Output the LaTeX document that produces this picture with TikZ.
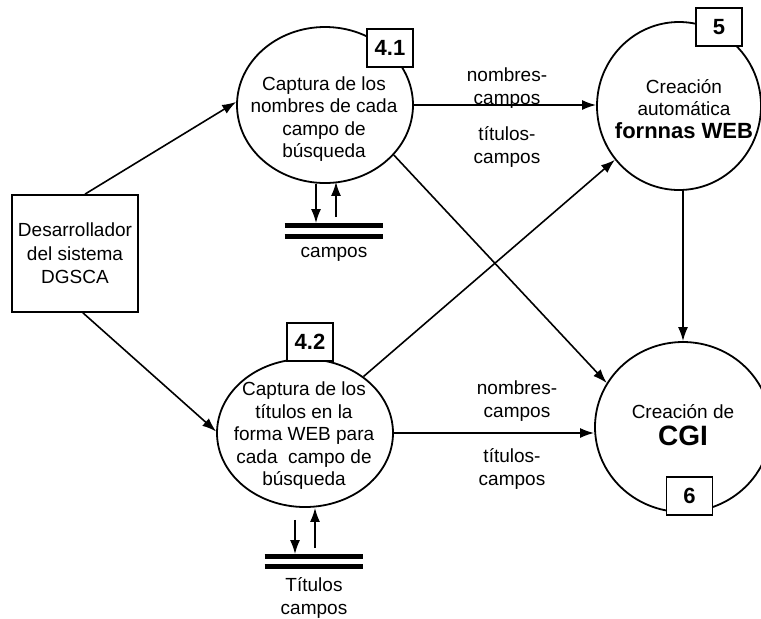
\documentclass[tikz,border=0pt]{standalone}
\usepackage{fontspec}
\setmainfont{Liberation Sans}
\usetikzlibrary{shapes.geometric,arrows.meta,calc,positioning}

\begin{document}
\begin{tikzpicture}[x=0.5pt,y=-0.5pt,
    proc/.style={draw,ellipse,line width=0.9pt,inner sep=0},
    ptext/.style={align=center,inner sep=0,font=\fontsize{9.5}{11.25}\selectfont},
    numbox/.style={draw,fill=white,line width=0.9pt,inner sep=0,minimum width=23pt,minimum height=19pt,font=\fontsize{11}{13}\bfseries\selectfont},
    flow/.style={line width=0.8pt,-{Latex[length=7pt,width=5pt]}},
    storeline/.style={line width=2.5pt},
    lbl/.style={align=center,inner sep=0,font=\fontsize{9.5}{11.5}\selectfont}]
          \useasboundingbox (0,0) rectangle (761,618);
          % external entity
          \node[draw,line width=0.9pt,minimum width=63pt,minimum height=58.5pt,inner sep=0,align=center,font=\fontsize{9.5}{11.75}\selectfont] (dev) at (75,253.5) {Desarrollador\\del sistema\\DGSCA};
          % processes
          \node[proc,minimum width=88pt,minimum height=78pt] (p41) at (325,105) {};
          \node[ptext] at ($(p41)+(-1,14)$) {Captura de los\\nombres de cada\\campo de\\búsqueda};
          \node[numbox] (n41) at (390,48) {4.1};
          \node[proc,minimum width=88pt,minimum height=74pt] (p42) at (305,433) {};
          \node[ptext] at ($(p42)+(-1,3)$) {Captura de los\\títulos en la\\forma WEB para\\cada~ campo de\\búsqueda};
          \node[numbox] (n42) at (310,342) {4.2};
          \node[proc,minimum width=82pt,minimum height=84pt] (p5) at (679,106) {};
          \node[ptext] at ($(p5)+(5,3)$) {Creación\\automática\\{\fontsize{11}{13}\bfseries\selectfont fornnas WEB}};
          \node[numbox] (n5) at (719,27) {5};
          \node[proc,minimum width=88pt,minimum height=85pt] (p6) at (683,427) {};
          \node[ptext] at ($(p6)+(0,-2)$) {Creación de\\[2pt]{\fontsize{14}{16}\bfseries\selectfont CGI}};
          \node[numbox] (n6) at (689.5,496) {6};
          % data stores
          \node[minimum width=49pt,minimum height=5.5pt,inner sep=0] (s41) at (334,231) {};
          \draw[storeline] (s41.north west) -- (s41.north east) (s41.south west) -- (s41.south east);
          \node[lbl,below=5pt of s41] (c41) {campos};
          \node[minimum width=49pt,minimum height=5pt,inner sep=0] (s42) at (314,561.5) {};
          \draw[storeline] (s42.north west) -- (s42.north east) (s42.south west) -- (s42.south east);
          \node[lbl,below=5pt of s42] (c42) {Títulos\\campos};
          % flows
          \draw[flow] ([xshift=5pt]dev.north) -- (p41.178);
          \draw[flow] ([xshift=4pt]dev.south) -- (p42.179);
          \draw[flow] (p41.east) -- (p41.east -| p5.west);
          \draw[flow] (p41.-36) -- (p6.150);
          \draw[flow] (p42.44) -- (p5.220);
          \draw[flow] (p42.east) -- (p42.east -| p6.west);
          \draw[flow] (p6.north |- p5.south) -- (p6.north);
          \draw[flow] ([xshift=-9pt]s41.north |- p41.south) -- ([xshift=-9pt,yshift=1pt]s41.north);
          \draw[flow] ([xshift=1pt,yshift=4pt]s41.north) -- ([xshift=1pt,yshift=1pt]s41.north |- p41.south);
          \draw[flow] ([xshift=-9.5pt,yshift=-6pt]s42.north |- p42.south) -- ([xshift=-9.5pt,yshift=1pt]s42.north);
          \draw[flow] ([xshift=0.5pt,yshift=4pt]s42.north) -- ([xshift=0.5pt]s42.north |- p42.south);
          % flow labels
          \node[lbl] (l1) at (507,88) {nombres-\\campos};
          \node[lbl] (l2) at (507,147) {títulos-\\campos};
          \node[lbl] (l3) at (517,401) {nombres-\\campos};
          \node[lbl] (l4) at (512,469) {títulos-\\campos};
        \end{tikzpicture}
\end{document}
